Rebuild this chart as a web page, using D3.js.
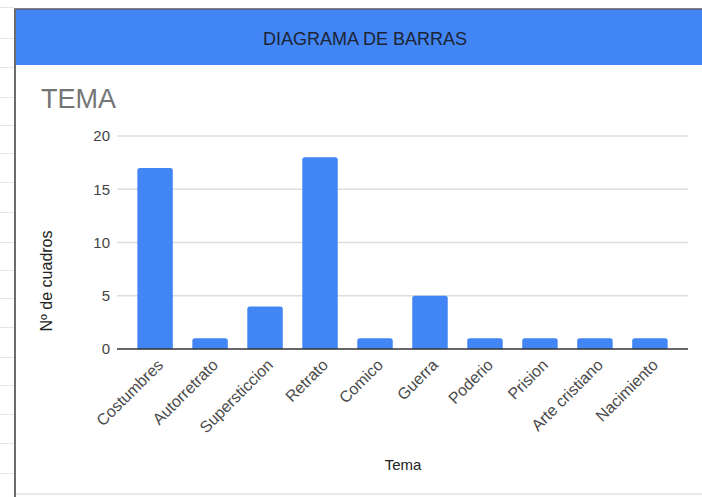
<!DOCTYPE html>
<html>
<head>
<meta charset="utf-8">
<script src="https://cdn.jsdelivr.net/npm/d3@7/dist/d3.min.js"></script>
<style>
  html, body { margin: 0; padding: 0; background: #fff; }
  svg { display: block; font-family: "Liberation Sans", Arial, sans-serif; }
</style>
</head>
<body>
<svg id="chart" width="702" height="497"></svg>
<script>
// ---- data ----
const categories = ["Costumbres", "Autorretrato", "Supersticcion", "Retrato", "Comico",
                    "Guerra", "Poderio", "Prision", "Arte cristiano", "Nacimiento"];
const values = [17, 1, 4, 18, 1, 5, 1, 1, 1, 1];
const yTicks = [0, 5, 10, 15, 20];
const headerText = "DIAGRAMA DE BARRAS";
const chartTitle = "TEMA";
const xTitle = "Tema";
const yTitle = "Nº de cuadros";
// spreadsheet row markers at the left edge (decoration)
const rowMarks = [7, 38, 67, 97, 125, 153, 182, 212, 242, 270, 298, 327, 357, 385, 414, 443, 473];

const svg = d3.select("#chart");
const W = 702, H = 497;
const plot = { left: 117, right: 688, top: 136, bottom: 349 };

// row markers
svg.selectAll("line.row").data(rowMarks).enter().append("line")
  .attr("x1", 0).attr("x2", 14).attr("y1", d => d + 0.5).attr("y2", d => d + 0.5)
  .attr("stroke", "#e4e4e4").attr("stroke-width", 1);

// header band
svg.append("rect").attr("x", 14).attr("y", 9).attr("width", W - 14).attr("height", 56)
  .attr("fill", "#4285F4");
svg.append("line").attr("x1", 14).attr("x2", W).attr("y1", 9).attr("y2", 9)
  .attr("stroke", "#5a5a6a").attr("stroke-width", 1.5);
svg.append("text").attr("x", 365).attr("y", 44.5).attr("text-anchor", "middle")
  .attr("font-size", 18).attr("fill", "#1d2433").text(headerText);

// left border & bottom line
svg.append("line").attr("x1", 15).attr("x2", 15).attr("y1", 9).attr("y2", H)
  .attr("stroke", "#6b6b6b").attr("stroke-width", 2);
svg.append("line").attr("x1", 16).attr("x2", W).attr("y1", 494).attr("y2", 494)
  .attr("stroke", "#e0e0e0").attr("stroke-width", 1.5);

// chart title
svg.append("text").attr("x", 41).attr("y", 108).attr("font-size", 27)
  .attr("fill", "#757575").text(chartTitle);

// scales
const x = d3.scaleBand().domain(categories).range([plot.left, plot.right])
  .paddingInner(0.355).paddingOuter(0.37);
const y = d3.scaleLinear().domain([0, 20]).range([plot.bottom, plot.top]);

// gridlines
svg.append("g").selectAll("line").data(yTicks.filter(t => t !== 0)).enter().append("line")
  .attr("x1", plot.left).attr("x2", plot.right)
  .attr("y1", d => y(d)).attr("y2", d => y(d))
  .attr("stroke", "#dedede").attr("stroke-width", 1.3);

// y axis tick labels
const yAxis = d3.axisLeft(y).tickValues(yTicks).tickSize(0).tickPadding(0).tickFormat(d3.format("d"));
const gy = svg.append("g").attr("transform", `translate(${plot.left - 7},0)`).call(yAxis);
gy.select(".domain").remove();
gy.selectAll("text").attr("font-size", 15).attr("fill", "#444")
  .attr("font-family", "Liberation Sans, Arial, sans-serif");

// bars with rounded top corners
const r = 2.5;
svg.append("g").selectAll("path").data(values).enter().append("path")
  .attr("fill", "#4285F4")
  .attr("d", (d, i) => {
    const x0 = x(categories[i]), w = x.bandwidth();
    const y0 = y(d), y1 = y(0);
    return `M${x0},${y1} L${x0},${y0 + r} Q${x0},${y0} ${x0 + r},${y0} L${x0 + w - r},${y0} Q${x0 + w},${y0} ${x0 + w},${y0 + r} L${x0 + w},${y1} Z`;
  });

// baseline
svg.append("line").attr("x1", plot.left).attr("x2", plot.right)
  .attr("y1", y(0)).attr("y2", y(0)).attr("stroke", "#333").attr("stroke-width", 1.5);

// x axis labels (rotated)
const xAxis = d3.axisBottom(x).tickSize(0).tickPadding(0);
const gx = svg.append("g").attr("transform", `translate(0,${plot.bottom})`).call(xAxis);
gx.select(".domain").remove();
gx.selectAll("text")
  .attr("font-size", 16).attr("fill", "#4a4a4a")
  .attr("font-family", "Liberation Sans, Arial, sans-serif")
  .attr("text-anchor", "end").attr("dy", null).attr("y", 0)
  .attr("transform", "translate(9,17) rotate(-45)");

// axis titles
svg.append("text").attr("x", 403).attr("y", 470).attr("text-anchor", "middle")
  .attr("font-size", 15).attr("fill", "#222").text(xTitle);
svg.append("text").attr("transform", "translate(52,281) rotate(-90)")
  .attr("text-anchor", "middle").attr("font-size", 16).attr("fill", "#222").text(yTitle);
</script>
</body>
</html>
